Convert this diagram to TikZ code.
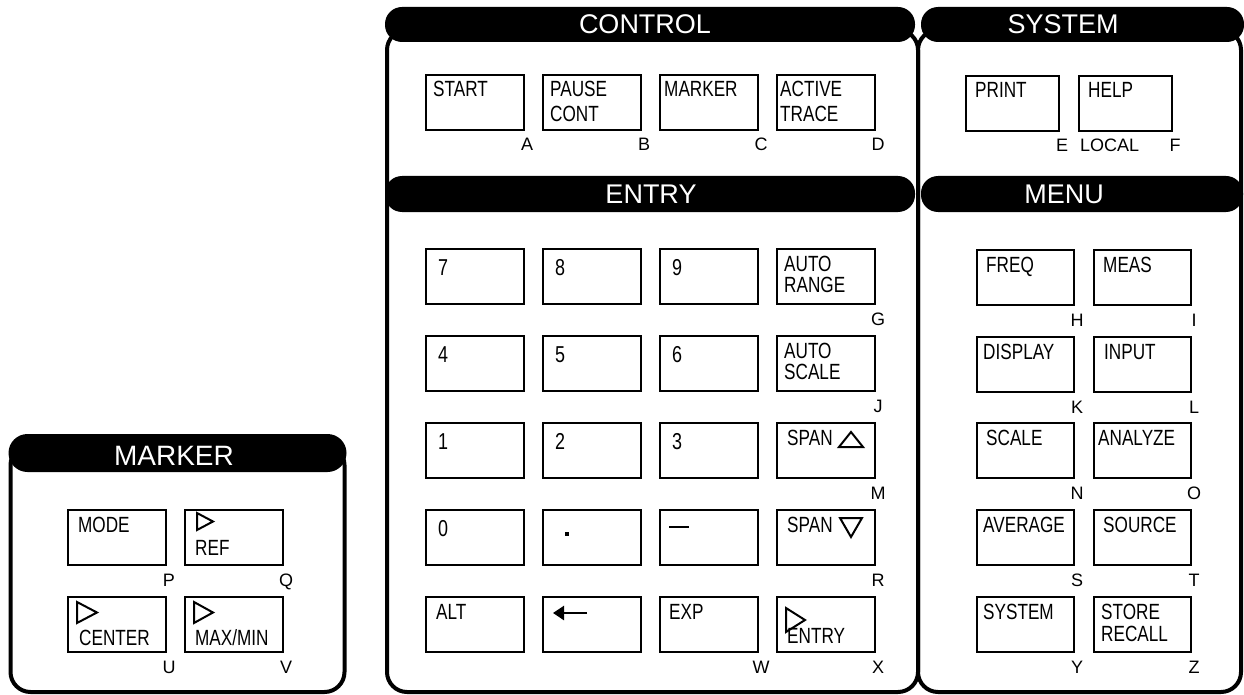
\documentclass[tikz,border=0pt]{standalone}
\usepackage{fontspec}
\setmainfont{Liberation Sans}
\newfontfamily\keyfont[FakeStretch=0.78]{Liberation Sans}
\usetikzlibrary{arrows.meta,calc}

% name, left, top, width, line1, line2, letter, xoffset, line2 baseline
\newcommand\kkey[9]{%
  \node[keybox, minimum width=#4pt] (#1) at (#2,#3) {};
  \def\argb{#5}\ifx\argb\empty\else\node[klabel] (#1-1) at ([shift={(#8,22)}]#1.north west) {#5};\fi
  \def\argb{#6}\ifx\argb\empty\else\node[klabel] (#1-2) at ([shift={(#8,#9)}]#1.north west) {#6};\fi
  \def\argb{#7}\ifx\argb\empty\else\node[letter] (#1-3) at ([shift={(3,21)}]#1.south east) {#7};\fi
}
% digit key: name, left, top, digit
\newcommand\dkey[4]{%
  \node[keybox, minimum width=98pt] (#1) at (#2,#3) {};
  \node[dlabel] (#1-1) at ([shift={(12,26)}]#1.north west) {#4};
}

\begin{document}
\begin{tikzpicture}[x=1pt,y=-1pt,
  frame/.style={draw=black, line width=4pt, rounded corners=20pt},
  hdrbar/.style={fill=black, rounded corners=17pt},
  hdrtext/.style={text=white, font=\fontsize{27}{30}\selectfont, inner sep=0pt, anchor=base},
  keybox/.style={draw=black, line width=2.6pt, minimum height=55pt, inner sep=0pt, outer sep=0pt, anchor=north west},
  klabel/.style={font=\keyfont\fontsize{22}{24}\selectfont, inner sep=0pt, anchor=base west},
  dlabel/.style={font=\keyfont\fontsize{23}{25}\selectfont, inner sep=0pt, anchor=base west},
  letter/.style={font=\fontsize{18}{20}\selectfont, inner sep=0pt, anchor=base},
  sym/.style={draw=black, line width=2pt, line join=miter},
]
\path[use as bounding box] (0,0) rectangle (1244,695);

% ---------- frames ----------
\draw[frame] (387,30) rectangle (918,692);
\draw[frame] (918,30) rectangle (1241,692);
\draw[frame] (10.5,445) rectangle (344.5,692);

% ---------- headers ----------
\fill[hdrbar] (385,7) rectangle (915,42);
\fill[hdrbar] (921,7) rectangle (1244,42);
\fill[hdrbar] (385,176) rectangle (915,212);
\fill[hdrbar] (921,176) rectangle (1243,212);
\fill[hdrbar, rounded corners=19pt] (8.5,434) rectangle (346.5,472);

\node[hdrtext] (tctl) at (645,34) {CONTROL};
\node[hdrtext] (tsys) at (1063,34) {SYSTEM};
\node[hdrtext] (tent) at (651,203.5) {ENTRY};
\node[hdrtext] (tmenu) at (1064,203.5) {MENU};
\node[hdrtext, font=\fontsize{28}{30}\selectfont] (tmark) at (174,465) {MARKER};

% ---------- CONTROL ----------
\kkey{kA}{426}{75}{98}{START}{}{A}{7}{0}
\kkey{kB}{543}{75}{98}{PAUSE}{CONT}{B}{7}{47}
\kkey{kC}{660}{75}{98}{MARKER}{}{C}{4}{0}
\kkey{kD}{777}{75}{98}{ACTIVE}{TRACE}{D}{3}{47}

% ---------- SYSTEM ----------
\kkey{kE}{966}{76}{93}{PRINT}{}{E}{9}{0}
\kkey{kF}{1079}{76}{93}{HELP}{}{F}{9}{0}
\node[letter, anchor=base west] (local) at ([shift={(1,21)}]kF.south west) {LOCAL};

% ---------- ENTRY ----------
\dkey{k7}{426}{249}{7}
\dkey{k8}{543}{249}{8}
\dkey{k9}{660}{249}{9}
\kkey{kG}{777}{249}{98}{AUTO}{RANGE}{G}{7}{43}
\dkey{k4}{426}{336}{4}
\dkey{k5}{543}{336}{5}
\dkey{k6}{660}{336}{6}
\kkey{kJ}{777}{336}{98}{AUTO}{SCALE}{J}{7}{43}
\dkey{k1}{426}{423}{1}
\dkey{k2}{543}{423}{2}
\dkey{k3}{660}{423}{3}
\kkey{kM}{777}{423}{98}{SPAN}{}{M}{10}{0}
\draw[sym] ([shift={(62,24)}]kM.north west) -- ++(24,0) -- ++(-12,-15) -- cycle;
\dkey{k0}{426}{510}{0}
\kkey{kDot}{543}{510}{98}{}{}{}{0}{0}
\fill ([shift={(21.5,21.5)}]kDot.north west) rectangle ++(4,4);
\kkey{kMinus}{660}{510}{98}{}{}{}{0}{0}
\draw[line width=2.7pt] ([shift={(9,17)}]kMinus.north west) -- ++(20,0);
\kkey{kR}{777}{510}{98}{SPAN}{}{R}{10}{0}
\draw[sym] ([shift={(63,8)}]kR.north west) -- ++(22,0) -- ++(-11,19) -- cycle;
\kkey{kAlt}{426}{597}{98}{ALT}{}{}{10}{0}
\kkey{kBs}{543}{597}{98}{}{}{}{0}{0}
\draw[line width=2.5pt, -{Triangle[length=11pt,width=14pt]}] ([shift={(44,16)}]kBs.north west) -- ([shift={(10,16)}]kBs.north west);
\kkey{kW}{660}{597}{98}{EXP}{}{W}{9}{0}
\kkey{kX}{777}{597}{98}{}{ENTRY}{X}{10}{46}
\draw[sym] ([shift={(9,11)}]kX.north west) -- ++(0,24) -- ++(19,-12) -- cycle;

% ---------- MENU ----------
\kkey{kH}{977}{250}{97}{FREQ}{}{H}{9}{0}
\kkey{kI}{1094}{250}{97}{MEAS}{}{I}{9}{0}
\kkey{kK}{977}{337}{97}{DISPLAY}{}{K}{6}{0}
\kkey{kL}{1094}{337}{97}{INPUT}{}{L}{10}{0}
\kkey{kN}{977}{423}{97}{SCALE}{}{N}{9}{0}
\kkey{kO}{1094}{423}{97}{ANALYZE}{}{O}{4}{0}
\kkey{kS}{977}{510}{97}{AVERAGE}{}{S}{6}{0}
\kkey{kT}{1094}{510}{97}{SOURCE}{}{T}{9}{0}
\kkey{kY}{977}{597}{97}{SYSTEM}{}{Y}{6}{0}
\kkey{kZ}{1094}{597}{97}{STORE}{RECALL}{Z}{7}{44}

% ---------- MARKER ----------
\kkey{kP}{68}{510}{98}{MODE}{}{P}{10}{0}
\kkey{kQ}{185}{510}{98}{}{REF}{Q}{10}{45}
\draw[sym] ([shift={(12,3)}]kQ.north west) -- ++(0,17) -- ++(16,-8.5) -- cycle;
\kkey{kU}{68}{597}{98}{}{CENTER}{U}{11}{48}
\draw[sym] ([shift={(9,5)}]kU.north west) -- ++(0,21) -- ++(20,-10.5) -- cycle;
\kkey{kV}{185}{597}{98}{}{MAX/MIN}{V}{10}{48}
\draw[sym] ([shift={(9,5)}]kV.north west) -- ++(0,21) -- ++(19,-10.5) -- cycle;
\end{tikzpicture}
\end{document}
